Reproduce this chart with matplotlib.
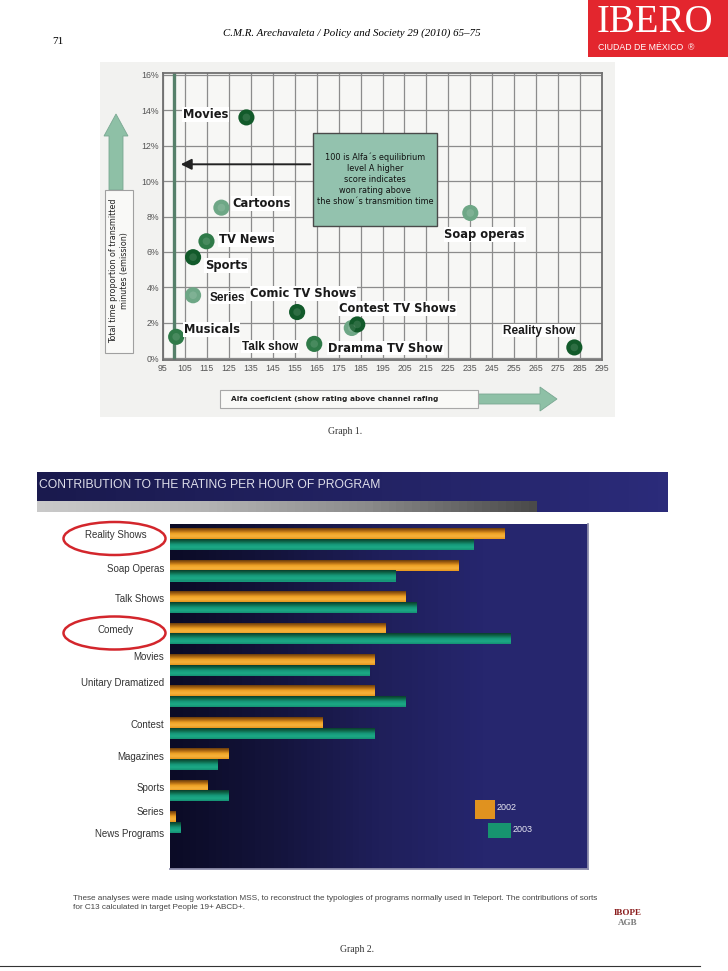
import numpy as np
import matplotlib
matplotlib.use('Agg')
import matplotlib.pyplot as plt
from matplotlib.patches import Rectangle, Ellipse, Polygon
from matplotlib.colors import to_rgb
from matplotlib.transforms import ScaledTranslation

W, H = 728, 971

# ---- graph 1: alfa coefficient vs share of transmitted minutes ----
genres = ['Movies', 'Cartoons', 'TV News', 'Sports', 'Series', 'Musicals',
          'Comic TV Shows', 'Talk show', 'Dramma TV Show', 'Contest TV Shows',
          'Soap operas', 'Reality show']
alfa = [133.0, 121.6, 114.8, 108.7, 108.7, 101.0, 156.1, 163.9, 181.0, 183.5, 235.0, 282.4]
share = [13.6, 8.5, 6.6, 5.7, 3.55, 1.2, 2.6, 0.8, 1.7, 1.9, 8.2, 0.6]
tone = ['dark', 'light', 'mid', 'dark', 'light', 'mid',
        'dark', 'mid', 'light', 'dark', 'light', 'dark']

# ---- graph 2: contribution to the rating per hour of program ----
bar_groups = ['Reality Shows', 'Soap Operas', 'Talk Shows', 'Comedy', 'Movies',
              'Unitary Dramatized', 'Contest', 'Magazines', 'Sports', 'Series / News']
rating_2002 = [80.1, 69.0, 56.4, 51.5, 49.0, 49.0, 36.4, 13.9, 9.0, 1.4]
rating_2003 = [72.7, 54.0, 59.0, 81.5, 47.8, 56.4, 49.0, 11.4, 13.9, 2.6]
row_labels = ['Reality Shows', 'Soap Operas', 'Talk Shows', 'Comedy', 'Movies',
              'Unitary Dramatized', 'Contest', 'Magazines', 'Sports', 'Series',
              'News Programs']
circled = {'Reality Shows', 'Comedy'}

# layout only: where each text label sits relative to its point / bar group
label_anchor = [(124.7, 13.75, 'right'), (126.5, 8.74, 'left'), (120.5, 6.7, 'left'),
                (114.0, 5.24, 'left'), (116.3, 3.42, 'left'), (104.4, 1.63, 'left'),
                (134.8, 3.65, 'left'), (156.6, 0.65, 'right'), (170.3, 0.56, 'left'),
                (175.2, 2.81, 'left'), (223.2, 6.98, 'left'), (249.7, 1.55, 'left')]
narrow_labels = {'Series', 'Talk show', 'Reality show'}
row_group = [0, 1, 2, 3, 4, 5, 6, 7, 8, 9, 9]
row_shift = [-0.17, -0.1, -0.13, -0.14, -0.29, -0.46, -0.12, -0.12, -0.13, -0.36, 0.36]

NARROW = ['Liberation Sans Narrow', 'Liberation Sans', 'DejaVu Sans']
SERIF = ['Liberation Serif', 'DejaVu Serif']

fig = plt.figure(figsize=(W / 100, H / 100), dpi=100)
fig.patch.set_facecolor('white')


def page_axes(left, top, right, bottom, z=1):
    ax = fig.add_axes([left / W, 1 - bottom / H, (right - left) / W, (bottom - top) / H])
    ax.set_zorder(z)
    return ax


def gradient(colors, n=64):
    cols = np.array([to_rgb(c) for c in colors])
    t = np.linspace(0, 1, len(cols))
    s = np.linspace(0, 1, n)
    return np.stack([np.interp(s, t, cols[:, k]) for k in range(3)], axis=-1)


bg = page_axes(0, 0, W, H, z=0)
bg.set_xlim(0, W)
bg.set_ylim(H, 0)
bg.axis('off')

fg = page_axes(0, 0, W, H, z=5)
fg.set_xlim(0, W)
fg.set_ylim(H, 0)
fg.axis('off')
fg.patch.set_alpha(0)

# page header
bg.text(52, 42, '71', fontsize=8, family=SERIF, va='center')
bg.text(352, 33, 'C.M.R. Arechavaleta / Policy and Society 29 (2010) 65\u201375',
        fontsize=7.8, family=SERIF, style='italic', ha='center', va='center')
bg.add_patch(Rectangle((588, 0), 140, 57, fc='#e3262e', ec='none'))
bg.text(655, 22, 'IBERO', fontsize=28, family=SERIF, color='white', ha='center', va='center')
bg.text(598, 47, 'CIUDAD DE M\u00c9XICO  \u00ae', fontsize=6.3, family=['Liberation Sans', 'DejaVu Sans'],
        color='white', va='center')

# ---------------- graph 1 ----------------
bg.add_patch(Rectangle((100, 62), 515, 355, fc='#f2f2f0', ec='none'))

ax1 = page_axes(163, 73, 602, 360, z=2)
ax1.set_facecolor('#f7f7f5')
ax1.set_xlim(95, 295)
ax1.set_ylim(-0.11, 16.11)
ax1.set_xticks(np.arange(95, 296, 10))
ax1.set_yticks(np.arange(0, 17, 2))
ax1.set_yticklabels([f'{v}%' for v in range(0, 17, 2)])
ax1.grid(True, color='#8c8c8c', lw=0.9)
ax1.set_axisbelow(True)
ax1.tick_params(length=0, labelsize=6.3, labelcolor='#555555', pad=3)
for lbl in ax1.get_xticklabels() + ax1.get_yticklabels():
    lbl.set_family(NARROW)
for sp in ax1.spines.values():
    sp.set_color('#707070')
    sp.set_linewidth(1.3)
ax1.axvline(100, color='#56806a', lw=2.4, zorder=1.5)

tone_color = {'dark': '#125a2a', 'mid': '#2f7a48', 'light': '#6ea786'}
ax1.scatter(alfa, share, s=135, c=[tone_color[t] for t in tone],
            edgecolors='none', zorder=4, clip_on=False)
ax1.scatter(alfa, share, s=30, c='white', alpha=0.12, edgecolors='none', zorder=4.5)

for name, (lx, ly, ha) in zip(genres, label_anchor):
    if name in narrow_labels:
        ax1.text(lx, ly, name, fontsize=8.5, family=NARROW, weight='bold', color='#1a1a1a',
                 ha=ha, va='center', zorder=5,
                 bbox=dict(fc='white', ec='none', pad=0.6))
    else:
        ax1.text(lx, ly, name, fontsize=8.3, family='DejaVu Sans', weight='bold', color='#1a1a1a',
                 ha=ha, va='center', zorder=5,
                 bbox=dict(fc='white', ec='none', pad=0.6))

ax1.add_patch(Rectangle((163.4, 7.45), 56.6, 5.27, fc='#93c2ae', ec='#4a4a4a', lw=1.0, zorder=3))
ax1.text(191.7, 10.1,
         '100 is Alfa\u00b4s equilibrium\nlevel A higher\nscore indicates\nwon rating above\nthe show\u00b4s transmition time',
         fontsize=5.9, ha='center', va='center', linespacing=1.3, color='#111111', zorder=3.5)
ax1.annotate('', xy=(101.8, 10.95), xytext=(163.4, 10.95),
             arrowprops=dict(arrowstyle='-|>', color='#222222', lw=1.4, mutation_scale=16),
             zorder=3)

# axis captions with green arrows
arrow_green = '#8ec0a6'
bg.add_patch(Polygon([(109, 190), (109, 136), (104, 136), (116, 114), (128, 136), (123, 136), (123, 190)],
                     closed=True, fc=arrow_green, ec='#7aa892', lw=0.6))
bg.add_patch(Rectangle((105, 190), 28, 163, fc='#f9f9f7', ec='#a0a0a0', lw=0.8))
bg.text(119, 271, 'Total time proportion of transmitted\nminutes (emission)', rotation=90,
        fontsize=5.8, ha='center', va='center', linespacing=1.15, color='#222222')
bg.add_patch(Polygon([(478, 394), (540, 394), (540, 387), (557, 399), (540, 411), (540, 404), (478, 404)],
                     closed=True, fc=arrow_green, ec='#7aa892', lw=0.6))
bg.add_patch(Rectangle((220, 390), 258, 18, fc='#f9f9f7', ec='#a8a8a8', lw=0.8))
bg.text(231, 399, 'Alfa coeficient (show rating above channel rafing', fontsize=5.35,
        weight='bold', ha='left', va='center', color='#222222')
bg.text(345, 432, 'Graph 1.', fontsize=7, family=SERIF, ha='center', va='center', color='#333333')

# ---------------- graph 2 ----------------
bg.imshow(gradient(['#1a1a4e', '#222262', '#2b2b7a'])[None, :, :],
          extent=(37, 668, 512, 472), origin='upper', aspect='auto', zorder=1)
bg.imshow(gradient(['#c9c9c9', '#b4b4b4', '#8a8a8a', '#4a4a4a'])[None, :, :],
          extent=(37, 537, 512, 501), origin='upper', aspect='auto', zorder=1.5)
bg.text(39, 485, 'CONTRIBUTION TO THE RATING PER HOUR OF PROGRAM', fontsize=8.7,
        family=['Liberation Sans', 'DejaVu Sans'], color='#dedeea', va='center', zorder=2)
bg.set_xlim(0, W)
bg.set_ylim(H, 0)

ax2 = page_axes(170, 524, 588, 869, z=2)
ypos = np.arange(len(bar_groups))
bh = 0.34
b02 = ax2.barh(ypos - bh / 2, rating_2002, height=bh, color='#ef9f22', zorder=2)
b03 = ax2.barh(ypos + bh / 2, rating_2003, height=bh, color='#16987a', zorder=2)
ax2.set_xlim(0, 100)
ax2.set_ylim(10.49, -0.49)

orange_grad = gradient(['#6a3c0c', '#b06a12', '#f0a326', '#f6b23c', '#e8961c'])[:, None, :]
green_grad = gradient(['#0a3d2c', '#0e6a4c', '#17987a', '#1caa86', '#159274'])[:, None, :]
for bars, grad in ((b02, orange_grad), (b03, green_grad)):
    for p in bars:
        x0, y0, w, h = p.get_x(), p.get_y(), p.get_width(), p.get_height()
        if w <= 0:
            continue
        ax2.imshow(grad, extent=(x0, x0 + w, y0 + h, y0), origin='upper', aspect='auto', zorder=3)

ax2.imshow(gradient(['#0b0b26', '#14143c', '#1f1f5a', '#26266e', '#27276f'])[None, :, :],
           extent=(0, 100, 10.49, -0.49), origin='upper', aspect='auto', zorder=0)
ax2.set_xlim(0, 100)
ax2.set_ylim(10.49, -0.49)
ax2.set_yticks([g + s for g, s in zip(row_group, row_shift)])
ax2.set_yticklabels(row_labels)
ax2.set_xticks([])
ax2.tick_params(axis='y', length=0, pad=4, labelsize=7, labelcolor='#333333')
for lbl in ax2.get_yticklabels():
    lbl.set_family(NARROW)
    if lbl.get_text() in circled:
        # circled labels sit centred inside their red ellipse
        lbl.set_ha('center')
        lbl.set_transform(lbl.get_transform() + ScaledTranslation(-0.49, 0, fig.dpi_scale_trans))
for side in ('left', 'top'):
    ax2.spines[side].set_visible(False)
for side in ('right', 'bottom'):
    ax2.spines[side].set_color('#8d8dab')
    ax2.spines[side].set_linewidth(1.3)

# highlight ellipses and legend
for cy in (538.5, 633):
    fg.add_patch(Ellipse((114.5, cy), 102, 33, fc='none', ec='#d3262c', lw=1.8))
fg.add_patch(Rectangle((475, 800), 20, 19, fc='#e0921f', ec='none'))
fg.add_patch(Rectangle((488, 823), 23, 15, fc='#17946f', ec='none'))
fg.text(497, 808, '2002', fontsize=6.5, family=NARROW, color='#e6e6f2', va='center')
fg.text(513, 830, '2003', fontsize=6.5, family=NARROW, color='#e6e6f2', va='center')

# footer
bg.text(73, 903, 'These analyses were made using workstation MSS, to reconstruct the typologies of programs '
        'normally used in Teleport. The contributions of sorts\nfor C13 calculated in target People 19+ ABCD+.',
        fontsize=5.9, family=NARROW, color='#444444', va='center', linespacing=1.25)
bg.text(628, 913, 'IBOPE', fontsize=6.5, family=SERIF, weight='bold', color='#8a1c1c', ha='center', va='center')
bg.text(628, 923, 'AGB', fontsize=6.5, family=SERIF, weight='bold', color='#7a7a7a', ha='center', va='center')
bg.text(357, 950, 'Graph 2.', fontsize=7, family=SERIF, ha='center', va='center', color='#333333')
bg.plot([0, 700], [966, 966], color='#333333', lw=0.8)

fig.savefig('out.png', dpi=100)
